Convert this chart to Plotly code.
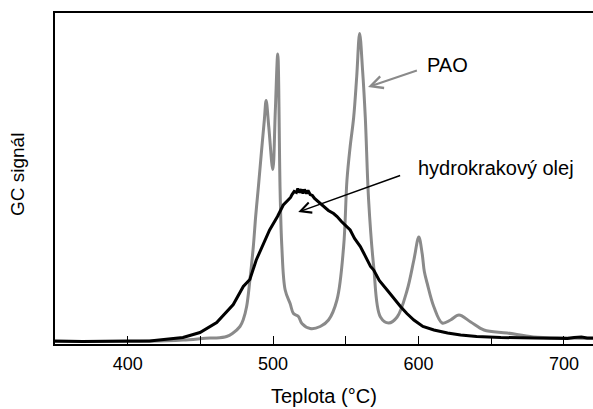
import plotly.graph_objects as go

# PAO (gray) curve: temperature (°C) and GC signal (arbitrary units)
pao_t = [350, 380, 415, 438, 456.6, 461, 468, 472, 477.2, 479.5, 481.8, 484, 486.4,
         488, 489.9, 492, 494, 495.2, 497, 499.8, 501.5, 503.2, 504.8, 506, 508.3,
         511.7, 514, 517.4, 519.8, 525.5, 532.4, 538.1, 543.9, 548.5, 550.8, 553,
         555.4, 557.5, 559.5, 561.5, 563.4, 565.7, 569.2, 573.8, 579.5, 585.3, 592.2,
         596.8, 600.2, 602.5, 604, 606, 610.6, 616.3, 622, 627.8, 635.9, 645, 661,
         679, 702.5, 720]
pao_v = [0, 0, 0.3, 1.5, 3.5, 3.5, 5, 8, 15, 22, 35, 61, 95,
         125, 155, 190, 222, 241, 215, 172, 230, 287.5, 151.5, 95, 51.5,
         38, 28, 25, 18, 13, 15, 21.5, 41.5, 95, 161.5, 195,
         224, 265, 308, 272, 224, 141, 74.5, 24.5, 18.5, 24.5, 51.5,
         81.5, 104.5, 88, 70, 58, 34.5, 18.5, 21.5, 26.5, 19.5, 11.5, 8.5,
         4.5, 3.5, 3]

# Hydrocracked oil (black) curve
hk_t = [350, 369, 400, 415, 438, 449.7, 461.2, 472.6, 479.5, 484, 488.4, 493, 497.6,
        503, 507, 510, 512, 513, 514.5, 516, 517, 518, 519.5, 520.5, 521.5, 523,
        524, 525.5, 527, 528.5, 530, 532.4, 534, 536, 538, 541.6, 544, 547, 550.8,
        553, 556, 560, 562.3, 565, 567, 569.2, 573, 578.4, 583, 587.6, 592, 596.8,
        603, 610.6, 620, 629, 640, 656.6, 680, 702.5, 707, 712, 716, 720]
hk_v = [0.5, 0, 0.5, 0.5, 4, 9, 19, 37, 55, 62, 81.5, 97, 111.5,
        125, 136.5, 141, 144, 147, 150, 149, 153, 149, 152, 148, 152, 148,
        151, 147, 146, 143, 141, 138.5, 136, 134, 131, 128, 125, 120, 115,
        111.5, 103, 95, 88.5, 80, 75, 71.5, 61, 51.5, 43, 35, 28, 21.5,
        15, 11.5, 8.5, 6.5, 5, 4, 3.5, 3, 4, 4.5, 3.5, 3.5]

x_ticks = [400, 500, 600, 700]
x_title = "Teplota (°C)"
y_title = "GC signál"

FONT = "Liberation Sans, Arial, sans-serif"

fig = go.Figure()
fig.add_trace(go.Scatter(x=pao_t, y=pao_v, mode="lines",
                         line=dict(color="#8a8a8a", width=3), line_shape="spline",
                         name="PAO", showlegend=False))
fig.add_trace(go.Scatter(x=hk_t, y=hk_v, mode="lines",
                         line=dict(color="#000000", width=3),
                         name="hydrokrakový olej", showlegend=False))

fig.update_layout(
    width=593, height=409,
    margin=dict(l=55, r=0, t=13, b=65),
    paper_bgcolor="white", plot_bgcolor="white",
    font=dict(family=FONT, size=18, color="#000"),
    xaxis=dict(range=[350, 720], tickvals=x_ticks, ticks="inside", ticklen=8,
               tickwidth=1, tickcolor="#000",
               minor=dict(tickvals=[450, 550, 650], ticks="inside", ticklen=8,
                          tickwidth=1, tickcolor="#000"),
               showline=True, linecolor="#000", linewidth=2, mirror=True,
               showgrid=False, zeroline=False,
               ticklabelstandoff=2,
               tickfont=dict(size=18)),
    yaxis=dict(range=[-2.5, 328.5], showticklabels=False, ticks="",
               showline=True, linecolor="#000", linewidth=2,
               showgrid=False, zeroline=False),
    annotations=[
        dict(text=x_title, xref="paper", yref="paper", x=0.5, y=0, yshift=-52,
             xanchor="center", yanchor="middle", showarrow=False,
             font=dict(size=20)),
        dict(text=y_title, xref="paper", yref="paper", x=0, y=0.512, xshift=-37.5,
             xanchor="center", yanchor="middle", textangle=-90, showarrow=False,
             font=dict(size=19)),
        dict(text="PAO", x=620, y=276.5, xref="x", yref="y", showarrow=False,
             font=dict(size=20)),
        dict(text="", x=565.3, y=254.5, ax=599.9, ay=271.5, xref="x", yref="y",
             axref="x", ayref="y", showarrow=True, arrowhead=5, arrowsize=1.2,
             arrowwidth=2, arrowcolor="#8a8a8a"),
        dict(text="hydrokrakový olej", x=653.2, y=173.5, xref="x", yref="y",
             showarrow=False, font=dict(size=20)),
        dict(text="", x=517.3, y=129.5, ax=588.4, ay=166.5, xref="x", yref="y",
             axref="x", ayref="y", showarrow=True, arrowhead=5, arrowsize=1.4,
             arrowwidth=1.5, arrowcolor="#000"),
    ],
)

fig.write_html("out.html",
               config={"displayModeBar": False},
               post_script="document.body.style.margin='0';document.body.style.overflow='hidden';")
